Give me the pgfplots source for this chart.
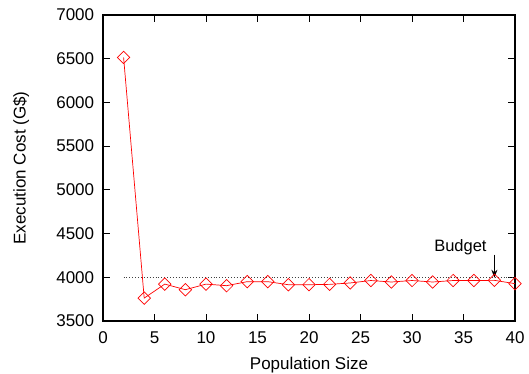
\documentclass[border=0pt]{standalone}
\usepackage{pgfplots}
\pgfplotsset{compat=1.18}
\usetikzlibrary{arrows.meta}
\usepackage{fontspec}
\setmainfont{Liberation Sans}
\begin{document}
\fontsize{17}{20}\selectfont
\begin{tikzpicture}
\begin{axis}[
  scale only axis, width=412pt, height=306pt,
  xmin=0, xmax=40, ymin=3500, ymax=7000,
  xtick={0,5,...,40}, ytick={3500,4000,...,7000},
  tick align=inside, major tick length=7pt,
  axis line style={line width=1.1pt},
  every tick/.style={black, line width=0.9pt},
  /pgf/number format/assume math mode=true,
  /pgf/number format/1000 sep={},
  xticklabel style={yshift=-5pt},
  yticklabel style={xshift=-3pt},
  xlabel={Population Size}, ylabel={Execution Cost (G\$)},
  xlabel style={at={(axis description cs:0.5,-0.1438)}, anchor=center},
  ylabel style={at={(axis description cs:-0.199,0.5)}, anchor=center},
  clip=false,
]
\addplot[dotted, black!75, line width=0.9pt] coordinates {(2,4000) (40,4000)};
\addplot[red, line width=0.7pt, mark=square, mark size=4.4pt, mark options={rotate=45, solid, line width=0.7pt}] coordinates {
(2,6515) (4,3762) (6,3922) (8,3858) (10,3922) (12,3904) (14,3950) (16,3950)
(18,3915) (20,3915) (22,3919) (24,3935) (26,3963) (28,3946) (30,3963)
(32,3946) (34,3963) (36,3963) (38,3965) (40,3927)};
\node[font=\fontsize{16.5}{19}\selectfont] at (axis cs:34.7,4340) {Budget};
\draw[-{Stealth[length=8pt,width=6pt]}, line width=1pt] (axis cs:38,4260) -- (axis cs:38,3995);
\end{axis}
\pgfresetboundingbox
\path[use as bounding box] ([xshift=-103pt,yshift=-53pt]current axis.south west) rectangle ([xshift=14pt,yshift=15pt]current axis.north east);
\end{tikzpicture}
\end{document}
